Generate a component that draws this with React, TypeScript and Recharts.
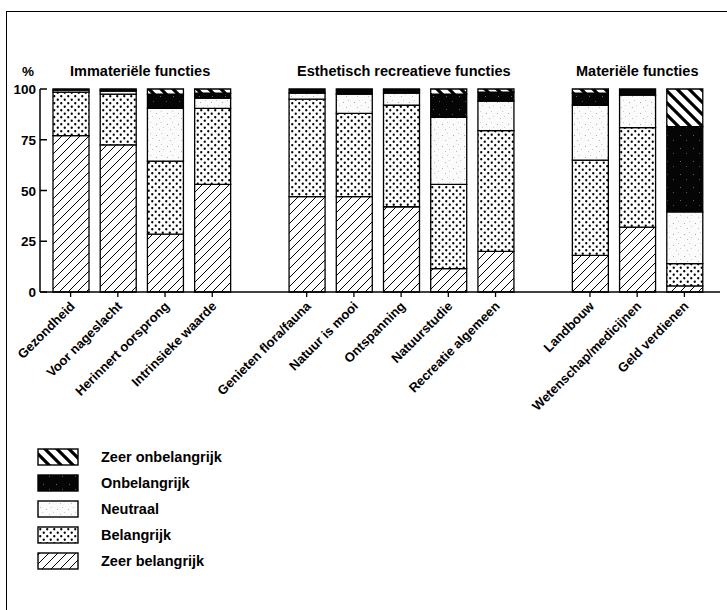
import React from 'react';
import { BarChart, Bar, XAxis, YAxis } from 'recharts';

// categories; '_gap' entries are empty slots that separate the three groups
const categories = [
  'Gezondheid', 'Voor nageslacht', 'Herinnert oorsprong', 'Intrinsieke waarde',
  '_gap1',
  'Genieten flora/fauna', 'Natuur is mooi', 'Ontspanning', 'Natuurstudie', 'Recreatie algemeen',
  '_gap2',
  'Landbouw', 'Wetenschap/medicijnen', 'Geld verdienen',
];

const zeerBelangrijk = [77, 72.5, 28.5, 53, null, 47, 47, 42, 11.5, 20, null, 18, 32, 3];
const belangrijk = [21.5, 25, 36, 37.5, null, 48, 41, 50, 41.5, 59.5, null, 47, 49, 11];
const neutraal = [1, 1.5, 26, 5, null, 3, 9.5, 6, 33, 14.5, null, 27, 16, 25.5];
const onbelangrijk = [0.5, 0.5, 7, 2.5, null, 2, 2.5, 1.5, 11.5, 4.5, null, 6, 3, 42];
const zeerOnbelangrijk = [0, 0.5, 2.5, 2, null, 0, 0, 0.5, 2.5, 1.5, null, 2, 0, 18.5];

const yTicks = [0, 25, 50, 75, 100];

const groupTitles = ['Immateriële functies', 'Esthetisch recreatieve functies', 'Materiële functies'];

const legendItems = [
  { key: 'zo', label: 'Zeer onbelangrijk' },
  { key: 'onb', label: 'Onbelangrijk' },
  { key: 'neu', label: 'Neutraal' },
  { key: 'bel', label: 'Belangrijk' },
  { key: 'zb', label: 'Zeer belangrijk' },
];

const data = categories.map((name, i) => ({
  name,
  zb: zeerBelangrijk[i],
  bel: belangrijk[i],
  neu: neutraal[i],
  onb: onbelangrijk[i],
  zo: zeerOnbelangrijk[i],
}));

const FONT = '"Liberation Sans", Arial, sans-serif';

function Patterns({ p }: { p: string }) {
  return (
    <defs>
      <pattern id={p + 'zb'} width="9" height="9" patternUnits="userSpaceOnUse">
        <rect width="9" height="9" fill="#fff" />
        <path d="M0,9 L9,0 M-2,2 L2,-2 M7,11 L11,7" stroke="#000" strokeWidth="1" />
      </pattern>
      <pattern id={p + 'bel'} width="7" height="7" patternUnits="userSpaceOnUse">
        <rect width="7" height="7" fill="#fff" />
        <circle cx="1.75" cy="1.75" r="1.15" fill="#000" />
        <circle cx="5.25" cy="5.25" r="1.15" fill="#000" />
      </pattern>
      <pattern id={p + 'neu'} width="11" height="11" patternUnits="userSpaceOnUse">
        <rect width="11" height="11" fill="#fbfbfb" />
        <rect x="2" y="3" width="1" height="1" fill="#aaa" />
        <rect x="7" y="1" width="1" height="1" fill="#ccc" />
        <rect x="5" y="8" width="1" height="1" fill="#bbb" />
        <rect x="9" y="6" width="1" height="1" fill="#ccc" />
      </pattern>
      <pattern id={p + 'onb'} width="13" height="13" patternUnits="userSpaceOnUse">
        <rect width="13" height="13" fill="#050505" />
        <rect x="4" y="5" width="1" height="1" fill="#666" />
        <rect x="10" y="10" width="1" height="1" fill="#555" />
      </pattern>
      <pattern id={p + 'zo'} width="12" height="12" patternUnits="userSpaceOnUse">
        <rect width="12" height="12" fill="#fff" />
        <path d="M0,0 L12,12 M-3,9 L3,15 M9,-3 L15,3" stroke="#000" strokeWidth="3.2" />
      </pattern>
    </defs>
  );
}

function YTick(props: any) {
  const { x, y, payload } = props;
  return (
    <g>
      <line x1={x} x2={x + 7} y1={y} y2={y} stroke="#000" strokeWidth={1.5} />
      <text x={x - 4} y={y + 5} textAnchor="end" fontSize={13.5} fontWeight="bold" fontFamily={FONT} fill="#000">
        {payload.value}
      </text>
    </g>
  );
}

function XTick(props: any) {
  const { x, y, payload } = props;
  if (String(payload.value).startsWith('_')) return null;
  return (
    <g>
      <line x1={x} x2={x} y1={y} y2={y + 5} stroke="#000" strokeWidth={1.3} />
      <text
        x={x + 5}
        y={y + 15}
        textAnchor="end"
        transform={`rotate(-45, ${x + 5}, ${y + 15})`}
        fontSize={13}
        fontWeight="bold"
        fontFamily={FONT}
        fill="#000"
      >
        {payload.value}
      </text>
    </g>
  );
}

const series = ['zb', 'bel', 'neu', 'onb', 'zo'];

export default function App() {
  return (
    <div style={{ position: 'absolute', left: 0, top: 0, width: 727, height: 610, background: '#fff', fontFamily: FONT }}>
      {/* frame edges of the scanned page */}
      <div style={{ position: 'absolute', left: 6, top: 11, width: 721, height: 599, borderTop: '1.5px solid #000', borderLeft: '1.5px solid #000' }} />

      <svg width={727} height={610} style={{ position: 'absolute', left: 0, top: 0 }}>
        <text x={22} y={76} fontSize={13.5} fontWeight="bold" fontFamily={FONT}>%</text>
        <text x={70} y={76} fontSize={14.5} fontWeight="bold" fontFamily={FONT}>{groupTitles[0]}</text>
        <text x={297} y={76} fontSize={14.5} fontWeight="bold" fontFamily={FONT}>{groupTitles[1]}</text>
        <text x={576} y={76} fontSize={14.5} fontWeight="bold" fontFamily={FONT}>{groupTitles[2]}</text>
      </svg>

      <div style={{ position: 'absolute', left: 0, top: 0 }}>
        <BarChart
          width={727}
          height={610}
          data={data}
          margin={{ top: 89, right: 7, bottom: 218, left: 0 }}
          barSize={36}
        >
          <Patterns p="c-" />
          <XAxis
            dataKey="name"
            interval={0}
            tickSize={0}
            tickMargin={0}
            tick={<XTick />}
            padding={{ left: 7, right: 12 }}
            axisLine={{ stroke: '#000', strokeWidth: 1.6 }}
            height={100}
          />
          <YAxis
            domain={[0, 100]}
            ticks={yTicks}
            width={40}
            tickSize={0}
            tickMargin={0}
            tick={<YTick />}
            axisLine={{ stroke: '#000', strokeWidth: 1.5 }}
          />
          {series.map((k) => (
            <Bar
              key={k}
              dataKey={k}
              stackId="a"
              fill={`url(#c-${k})`}
              stroke="#000"
              strokeWidth={1.3}
              isAnimationActive={false}
            />
          ))}
        </BarChart>
      </div>

      <svg width={280} height={140} style={{ position: 'absolute', left: 0, top: 440 }}>
        <Patterns p="l-" />
        {legendItems.map((it, i) => (
          <g key={it.key}>
            <rect x={38} y={9 + i * 26} width={40} height={16} fill={`url(#l-${it.key})`} stroke="#000" strokeWidth={1.4} />
            <text x={101} y={22 + i * 26} fontSize={14.5} fontWeight="bold" fontFamily={FONT}>{it.label}</text>
          </g>
        ))}
      </svg>
    </div>
  );
}
